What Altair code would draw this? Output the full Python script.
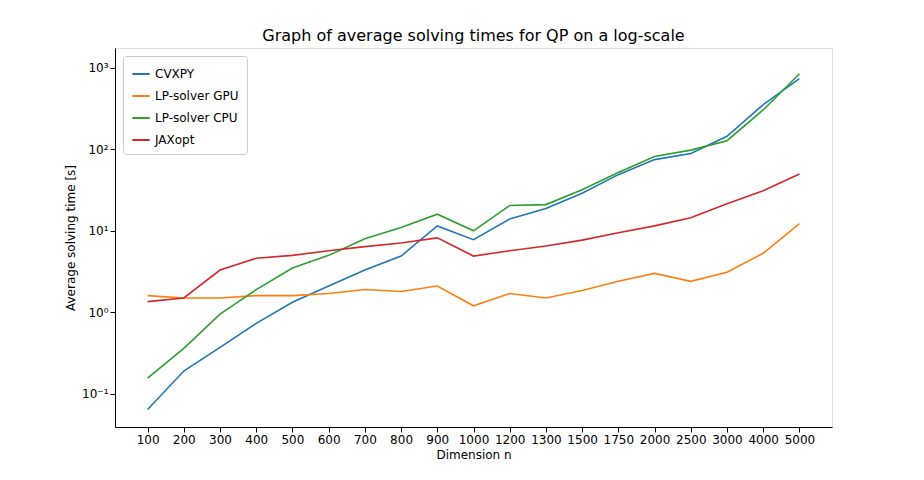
import pandas as pd
import altair as alt

dims = ['100', '200', '300', '400', '500', '600', '700', '800', '900', '1000',
        '1200', '1300', '1500', '1750', '2000', '2500', '3000', '4000', '5000']

cvxpy = [0.064, 0.19, 0.37, 0.73, 1.33, 2.1, 3.3, 4.9, 11.5, 7.8,
         14, 18.8, 29, 49, 75, 89, 145, 355, 740]
gpu = [1.6, 1.5, 1.5, 1.6, 1.6, 1.7, 1.9, 1.8, 2.1, 1.2,
       1.7, 1.5, 1.85, 2.4, 3.0, 2.4, 3.1, 5.3, 12.3]
cpu = [0.155, 0.36, 0.95, 1.9, 3.5, 5.0, 8.0, 11, 16, 10,
       20.5, 21, 32, 52, 82, 98, 128, 305, 850]
jaxopt = [1.35, 1.5, 3.3, 4.6, 5.0, 5.7, 6.4, 7.1, 8.2, 4.9,
          5.7, 6.5, 7.7, 9.5, 11.5, 14.5, 21.5, 31, 50]

names = ['CVXPY', 'LP-solver GPU', 'LP-solver CPU', 'JAXopt']
colors = ['#1f77b4', '#ff7f0e', '#2ca02c', '#d62728']

rows = []
for name, vals in zip(names, [cvxpy, gpu, cpu, jaxopt]):
    for d, v in zip(dims, vals):
        rows.append({'dim': d, 'time': v, 'solver': name})
df = pd.DataFrame(rows)

label_expr = ("datum.value < 0.5 ? '10⁻¹' : datum.value < 5 ? '10⁰' : "
              "datum.value < 50 ? '10¹' : datum.value < 500 ? '10²' : '10³'")

axis_style = dict(grid=False, tickColor='black', domainColor='black',
                  labelColor='black', labelFontSize=12, titleFontSize=12,
                  titleFontWeight='normal', titleColor='black')

chart = alt.Chart(df).mark_line(strokeWidth=1.6).encode(
    x=alt.X('dim:O', sort=dims, title='Dimension n',
            scale=alt.Scale(type='point', padding=0.9),
            axis=alt.Axis(labelAngle=0, **axis_style)),
    y=alt.Y('time:Q', title='Average solving time [s]',
            scale=alt.Scale(type='log', domain=[0.039, 1760], nice=False),
            axis=alt.Axis(values=[0.1, 1, 10, 100, 1000], labelExpr=label_expr,
                          **axis_style)),
    color=alt.Color('solver:N', sort=names,
                    scale=alt.Scale(domain=names, range=colors),
                    legend=alt.Legend(title=None, orient='top-left', offset=8,
                                      symbolType='stroke', symbolStrokeWidth=2,
                                      symbolSize=300, labelFontSize=12,
                                      labelColor='black', strokeColor='#cccccc',
                                      fillColor='white', padding=8,
                                      cornerRadius=3, rowPadding=6)),
).properties(
    width=717, height=379,
    title=alt.TitleParams('Graph of average solving times for QP on a log-scale',
                          fontSize=16, fontWeight='normal', color='black'),
    autosize=alt.AutoSizeParams(type='none'),
    padding={'left': 107, 'top': 40, 'right': 84, 'bottom': 45},
).configure_view(stroke='black', strokeWidth=1).configure(font='DejaVu Sans')

chart.save("out.html", embed_options={"renderer": "svg", "actions": False})
